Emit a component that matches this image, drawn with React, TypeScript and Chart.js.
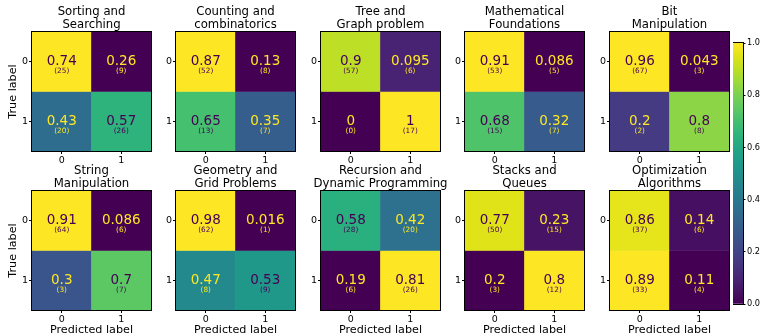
import React, { useEffect, useRef } from "react";
import { Chart, registerables } from "chart.js";

Chart.register(...registerables);

const FONT = "'DejaVu Sans', 'Liberation Sans', sans-serif";

// Class labels shared by both axes of every matrix
const classLabels = ["0", "1"];

// Subplot titles, two lines each
const topicTitles: string[][] = [
  ["Sorting and", "Searching"],
  ["Counting and", "combinatorics"],
  ["Tree and", "Graph problem"],
  ["Mathematical", "Foundations"],
  ["Bit", "Manipulation"],
  ["String", "Manipulation"],
  ["Geometry and", "Grid Problems"],
  ["Recursion and", "Dynamic Programming"],
  ["Stacks and", "Queues"],
  ["Optimization", "Algorithms"],
];

// Row-normalised rates: [true label][predicted label]
const rates: number[][][] = [
  [[0.74, 0.26], [0.43, 0.57]],
  [[0.87, 0.13], [0.65, 0.35]],
  [[0.9, 0.095], [0, 1]],
  [[0.91, 0.086], [0.68, 0.32]],
  [[0.96, 0.043], [0.2, 0.8]],
  [[0.91, 0.086], [0.3, 0.7]],
  [[0.98, 0.016], [0.47, 0.53]],
  [[0.58, 0.42], [0.19, 0.81]],
  [[0.77, 0.23], [0.2, 0.8]],
  [[0.86, 0.14], [0.89, 0.11]],
];

// Raw sample counts: [true label][predicted label]
const counts: number[][][] = [
  [[25, 9], [20, 26]],
  [[52, 8], [13, 7]],
  [[57, 6], [0, 17]],
  [[53, 5], [15, 7]],
  [[67, 3], [2, 8]],
  [[64, 6], [3, 7]],
  [[62, 1], [8, 9]],
  [[28, 20], [6, 26]],
  [[50, 15], [3, 12]],
  [[37, 6], [33, 4]],
];

const colorbarTicks = [0, 0.2, 0.4, 0.6, 0.8, 1.0];

// viridis sampled at 0.05 steps
const VIRIDIS = [
  "#440154", "#471365", "#482475", "#463480", "#414487", "#3b528b",
  "#355f8d", "#2f6c8e", "#2a788e", "#25848e", "#21918c", "#1e9c89",
  "#22a884", "#2fb47c", "#44bf70", "#5ec962", "#7ad151", "#9bd93c",
  "#bddf26", "#dfe318", "#fde725",
];

function hexToRgb(h: string) {
  return [1, 3, 5].map((i) => parseInt(h.slice(i, i + 2), 16));
}

function viridis(t: number): string {
  const c = Math.min(1, Math.max(0, t)) * (VIRIDIS.length - 1);
  const i = Math.min(VIRIDIS.length - 2, Math.floor(c));
  const f = c - i;
  const a = hexToRgb(VIRIDIS[i]);
  const b = hexToRgb(VIRIDIS[i + 1]);
  const m = a.map((v, k) => Math.round(v + (b[k] - v) * f));
  return `rgb(${m[0]},${m[1]},${m[2]})`;
}

function fmt(v: number) {
  return String(parseFloat(v.toPrecision(2)));
}

// Layout of the 2x5 grid of matrices
const BOX = 119;
const COL_LEFT = [32, 176, 321, 465, 610];
const ROW_TOP = [32, 191];
const TITLE_BLOCK = 32;

const outline = {
  id: "outline",
  afterDraw(chart: any) {
    const { ctx, chartArea: a } = chart;
    ctx.save();
    ctx.strokeStyle = "#000";
    ctx.lineWidth = 1;
    ctx.strokeRect(a.left - 0.5, a.top - 0.5, a.right - a.left + 1, a.bottom - a.top + 1);
    ctx.restore();
  },
};

// Two-line heading centred over the plot area (allowed to overhang it)
function headingPlugin(lines: string[]) {
  return {
    id: "heading",
    afterDraw(chart: any) {
      const { ctx, chartArea: a } = chart;
      const cx = (a.left + a.right) / 2;
      ctx.save();
      ctx.fillStyle = "#000";
      ctx.font = `11.7px ${FONT}`;
      ctx.textAlign = "center";
      ctx.textBaseline = "middle";
      lines.forEach((t, i) => {
        ctx.fillText(t, cx, a.top - 7.5 - (lines.length - 1 - i) * 13);
      });
      ctx.restore();
    },
  };
}

function Matrix({ index }: { index: number }) {
  const ref = useRef<HTMLCanvasElement>(null);
  const row = Math.floor(index / 5);
  const col = index % 5;
  const yW = col === 0 ? 32 : 14;
  const xH = row === 1 ? 27 : 16;
  const padR = 14;
  const width = yW + BOX + padR;
  const height = TITLE_BLOCK + BOX + xH;
  const left = COL_LEFT[col] - yW;
  const top = ROW_TOP[row] - TITLE_BLOCK;

  useEffect(() => {
    const m = rates[index];
    const flat = m.flat();
    const lo = Math.min(...flat);
    const hi = Math.max(...flat);
    const thresh = (lo + hi) / 2;

    const cellText = {
      id: "cellText",
      afterDatasetsDraw(chart: any) {
        const c = chart.ctx;
        m.forEach((rowVals, r) => {
          const meta = chart.getDatasetMeta(r);
          rowVals.forEach((v, p) => {
            const { x, y } = meta.data[p].getCenterPoint();
            c.save();
            c.fillStyle = v < thresh ? VIRIDIS[20] : VIRIDIS[0];
            c.textAlign = "center";
            c.textBaseline = "middle";
            c.font = `13.5px ${FONT}`;
            c.fillText(fmt(v), x, y);
            c.font = `7.3px ${FONT}`;
            c.fillText(`(${counts[index][r][p]})`, x, y + 9.5);
            c.restore();
          });
        });
      },
    };

    const tickFont = { family: FONT, size: 9.5 };
    const labelFont = { family: FONT, size: 11.2 };

    const chart = new Chart(ref.current as HTMLCanvasElement, {
      type: "bar",
      data: {
        labels: classLabels,
        datasets: m.map((rowVals, r) => ({
          data: rowVals.map(() => [r - 0.5, r + 0.5]),
          backgroundColor: rowVals.map((v) => viridis((v - lo) / (hi - lo))),
          borderWidth: 0,
          barPercentage: 1,
          categoryPercentage: 1,
          grouped: false,
        })) as any,
      },
      options: {
        responsive: false,
        animation: false,
        events: [],
        layout: { padding: { top: TITLE_BLOCK, right: padR, left: 0, bottom: 0 } },
        plugins: {
          legend: { display: false },
          tooltip: { enabled: false },
          title: { display: false },
        },
        scales: {
          x: {
            type: "category",
            offset: true,
            grid: {
              display: true,
              drawOnChartArea: false,
              drawTicks: true,
              tickLength: 3,
              offset: false,
              color: "#000",
              lineWidth: 1,
            },
            border: { display: true, color: "#000", width: 1 },
            ticks: { color: "#000", font: tickFont, padding: 1, maxRotation: 0, autoSkip: false },
            title: {
              display: row === 1,
              text: "Predicted label",
              color: "#000",
              font: labelFont,
              padding: { top: 0, bottom: 0 },
            },
            afterFit: (s: any) => {
              s.height = xH;
            },
          },
          y: {
            type: "linear",
            min: -0.5,
            max: 1.5,
            reverse: true,
            afterBuildTicks: (s: any) => {
              s.ticks = classLabels.map((_, i) => ({ value: i }));
            },
            grid: {
              display: true,
              drawOnChartArea: false,
              drawTicks: true,
              tickLength: 3,
              color: "#000",
              lineWidth: 1,
            },
            border: { display: true, color: "#000", width: 1 },
            ticks: {
              color: "#000",
              font: tickFont,
              padding: 1,
              callback: (_v: any, i: number) => classLabels[i],
            },
            title: {
              display: col === 0,
              text: "True label",
              color: "#000",
              font: labelFont,
              padding: { top: 6.5, bottom: 0 },
            },
            afterFit: (s: any) => {
              s.width = yW;
            },
          },
        },
      } as any,
      plugins: [cellText, outline, headingPlugin(topicTitles[index])],
    });
    return () => chart.destroy();
  }, [index]);

  return (
    <canvas
      ref={ref}
      width={width}
      height={height}
      style={{ position: "absolute", left, top, width, height }}
    />
  );
}

function Colorbar() {
  const ref = useRef<HTMLCanvasElement>(null);
  const barLeft = 733;
  const barTop = 43;
  const barW = 10;
  const barH = 261;
  const pad = 8;
  const axisW = 27;
  const width = barW + axisW;
  const height = barH + 2 * pad;

  useEffect(() => {
    const lo = colorbarTicks[0];
    const hi = colorbarTicks[colorbarTicks.length - 1];
    const chart = new Chart(ref.current as HTMLCanvasElement, {
      type: "bar",
      data: {
        labels: [""],
        datasets: [
          {
            data: [[lo, hi]] as any,
            borderWidth: 0,
            barPercentage: 1,
            categoryPercentage: 1,
            backgroundColor: (ctx: any) => {
              const { chart: ch } = ctx;
              const a = ch.chartArea;
              if (!a) return VIRIDIS[10];
              const g = ch.ctx.createLinearGradient(0, a.bottom, 0, a.top);
              VIRIDIS.forEach((c, i) => g.addColorStop(i / (VIRIDIS.length - 1), c));
              return g;
            },
          },
        ],
      },
      options: {
        responsive: false,
        animation: false,
        events: [],
        layout: { padding: { top: pad, bottom: pad, left: 0, right: 0 } },
        plugins: { legend: { display: false }, tooltip: { enabled: false } },
        scales: {
          x: { display: false },
          y: {
            position: "right",
            min: lo,
            max: hi,
            afterBuildTicks: (s: any) => {
              s.ticks = colorbarTicks.map((v) => ({ value: v }));
            },
            grid: { drawOnChartArea: false, drawTicks: true, tickLength: 2.5, color: "#000" },
            border: { display: true, color: "#000", width: 1 },
            ticks: {
              color: "#000",
              font: { family: FONT, size: 8.2 },
              padding: 1.5,
              callback: (v: any) => Number(v).toFixed(1),
            },
            afterFit: (s: any) => {
              s.width = axisW;
            },
          },
        },
      } as any,
      plugins: [outline],
    });
    return () => chart.destroy();
  }, []);

  return (
    <canvas
      ref={ref}
      width={width}
      height={height}
      style={{ position: "absolute", left: barLeft, top: barTop - pad, width, height }}
    />
  );
}

export default function App() {
  return (
    <div
      style={{
        position: "absolute",
        left: 0,
        top: 0,
        width: 760,
        height: 336,
        overflow: "hidden",
        background: "#fff",
      }}
    >
      {topicTitles.map((_, i) => (
        <Matrix key={i} index={i} />
      ))}
      <Colorbar />
    </div>
  );
}
